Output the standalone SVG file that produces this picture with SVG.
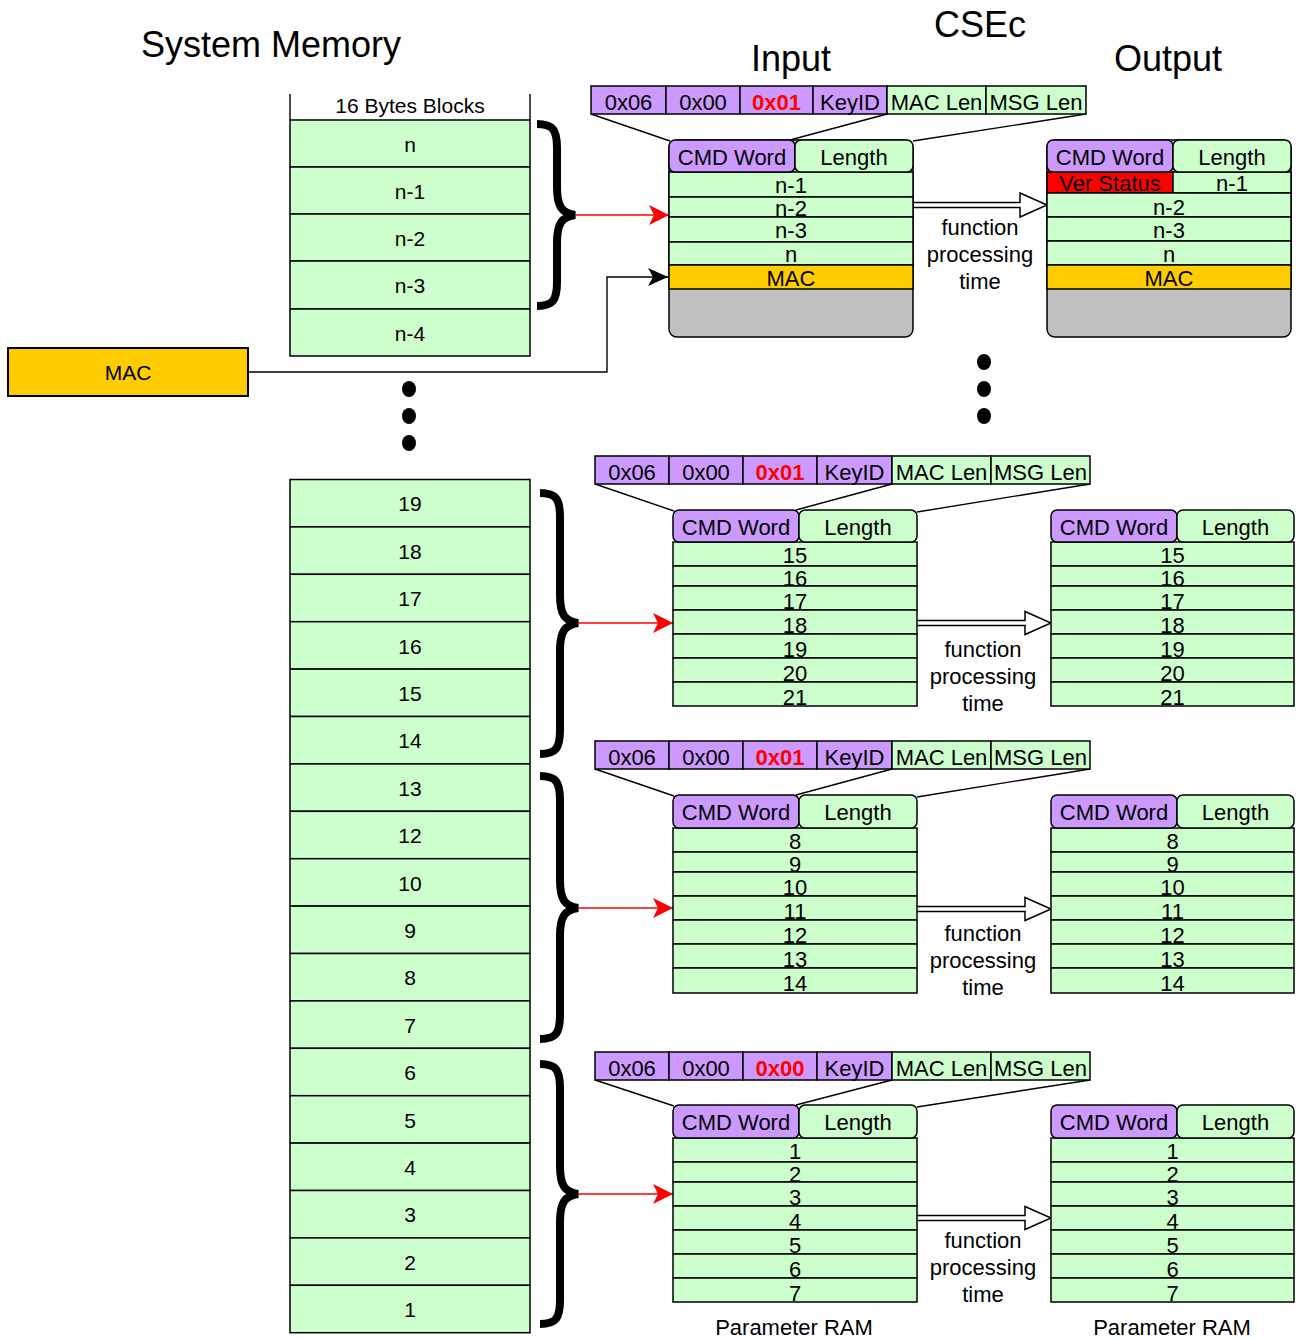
<svg xmlns="http://www.w3.org/2000/svg" width="1296" height="1340" viewBox="0 0 1296 1340">
<style>
text{font-family:"Liberation Sans",Arial,Helvetica,sans-serif;font-size:22px;text-anchor:middle;fill:#000}
.m{font-size:21px}
.big{font-size:36px}
.rb{fill:#FF0000;font-weight:bold}
.g{fill:#CCFFCC;stroke:#000;stroke-width:1.5}
.p{fill:#CC99FF;stroke:#000;stroke-width:1.5}
.o{fill:#FFCC00;stroke:#000;stroke-width:1.5}
.gr{fill:#C0C0C0;stroke:#000;stroke-width:1.5}
.rd{fill:#FF0000;stroke:#000;stroke-width:1.5}
.ln{fill:none;stroke:#000;stroke-width:1.4}
.br{fill:none;stroke:#000;stroke-width:8}
.red{fill:none;stroke:#FF0000;stroke-width:1.5}
.ha{fill:#fff;stroke:#000;stroke-width:1.5}
</style>
<defs>
<marker id="ar" markerUnits="userSpaceOnUse" viewBox="0 0 20 20" refX="20" refY="10" markerWidth="20" markerHeight="20" orient="auto"><path d="M0,0 L20,10 L0,20 L5,10 Z" fill="#FF0000"/></marker>
<marker id="ak" markerUnits="userSpaceOnUse" viewBox="0 0 20 18" refX="20" refY="9" markerWidth="20" markerHeight="18" orient="auto"><path d="M0,0 L20,9 L0,18 L5,9 Z" fill="#000"/></marker>
</defs>

<g id="titles">
<text class="big" x="271" y="57">System Memory</text>
<text class="big" x="980" y="37">CSEc</text>
<text class="big" x="791" y="71">Input</text>
<text class="big" x="1168" y="71">Output</text>
</g>

<g id="memory-top">
<path class="ln" d="M290,94 V120 M530,94 V120"/>
<text class="m" x="410" y="113">16 Bytes Blocks</text>
<rect class="g" x="290" y="120" width="240" height="47"/><text class="m" x="410" y="151.5">n</text>
<rect class="g" x="290" y="167" width="240" height="47"/><text class="m" x="410" y="198.5">n-1</text>
<rect class="g" x="290" y="214" width="240" height="47"/><text class="m" x="410" y="245.5">n-2</text>
<rect class="g" x="290" y="261" width="240" height="48"/><text class="m" x="410" y="293">n-3</text>
<rect class="g" x="290" y="309" width="240" height="47"/><text class="m" x="410" y="340.5">n-4</text>
</g>

<g id="mac-mem">
<rect class="o" x="8" y="348" width="240" height="48" style="stroke-width:2"/>
<text class="m" x="128" y="380">MAC</text>
</g>

<g id="dots">
<ellipse cx="409" cy="389" rx="7" ry="8"/><ellipse cx="409" cy="416" rx="7" ry="8"/><ellipse cx="409" cy="443" rx="7" ry="8"/>
<ellipse cx="984" cy="362" rx="7" ry="8"/><ellipse cx="984" cy="389" rx="7" ry="8"/><ellipse cx="984" cy="416" rx="7" ry="8"/>
</g>

<g id="memory-bottom">
<rect class="g" x="290" y="479.5" width="240" height="47.4"/><text class="m" x="410" y="511">19</text>
<rect class="g" x="290" y="526.9" width="240" height="47.4"/><text class="m" x="410" y="558.5">18</text>
<rect class="g" x="290" y="574.3" width="240" height="47.4"/><text class="m" x="410" y="606">17</text>
<rect class="g" x="290" y="621.7" width="240" height="47.4"/><text class="m" x="410" y="653.5">16</text>
<rect class="g" x="290" y="669.1" width="240" height="47.4"/><text class="m" x="410" y="701">15</text>
<rect class="g" x="290" y="716.5" width="240" height="47.4"/><text class="m" x="410" y="748">14</text>
<rect class="g" x="290" y="763.9" width="240" height="47.4"/><text class="m" x="410" y="795.5">13</text>
<rect class="g" x="290" y="811.3" width="240" height="47.4"/><text class="m" x="410" y="843">12</text>
<rect class="g" x="290" y="858.7" width="240" height="47.4"/><text class="m" x="410" y="890.5">10</text>
<rect class="g" x="290" y="906.1" width="240" height="47.4"/><text class="m" x="410" y="938">9</text>
<rect class="g" x="290" y="953.5" width="240" height="47.4"/><text class="m" x="410" y="985">8</text>
<rect class="g" x="290" y="1000.9" width="240" height="47.4"/><text class="m" x="410" y="1032.5">7</text>
<rect class="g" x="290" y="1048.3" width="240" height="47.4"/><text class="m" x="410" y="1080">6</text>
<rect class="g" x="290" y="1095.7" width="240" height="47.4"/><text class="m" x="410" y="1127.5">5</text>
<rect class="g" x="290" y="1143.1" width="240" height="47.4"/><text class="m" x="410" y="1175">4</text>
<rect class="g" x="290" y="1190.5" width="240" height="47.4"/><text class="m" x="410" y="1222">3</text>
<rect class="g" x="290" y="1237.9" width="240" height="47.4"/><text class="m" x="410" y="1269.5">2</text>
<rect class="g" x="290" y="1285.3" width="240" height="47.4"/><text class="m" x="410" y="1317">1</text>
</g>

<g id="braces">
<path class="br" d="M537,124 C553,124 557,130 557,148 L557,187 C557,207 562,213 575,215 C562,217 557,223 557,243 L557,282 C557,300 553,306 537,306"/>
<path class="br" d="M540,493 C556,493 560,499 560,517 L560,595 C560,615 565,621 578,623 C565,625 560,631 560,651 L560,730 C560,748 556,754 540,754"/>
<path class="br" d="M540,776 C556,776 560,782 560,800 L560,880 C560,900 565,906 578,908 C565,910 560,916 560,936 L560,1015 C560,1033 556,1039 540,1039"/>
<path class="br" d="M540,1064 C556,1064 560,1070 560,1088 L560,1166 C560,1186 565,1192 578,1194 C565,1196 560,1202 560,1222 L560,1300 C560,1318 556,1324 540,1324"/>
</g>

<g id="connectors">
<line class="red" x1="575" y1="215" x2="669" y2="215" marker-end="url(#ar)"/>
<line class="red" x1="578" y1="623" x2="673" y2="623" marker-end="url(#ar)"/>
<line class="red" x1="578" y1="908" x2="673" y2="908" marker-end="url(#ar)"/>
<line class="red" x1="578" y1="1194" x2="673" y2="1194" marker-end="url(#ar)"/>
<path class="ln" d="M248,372 H607 V277 H668" marker-end="url(#ak)"/>
<path class="ln" d="M591,114 L670,141 M887,114 L790,140 M1086,114 L913,141"/>
<path class="ln" d="M595,484 L674,511 M892,484 L796,510 M1090,484 L917,512"/>
<path class="ln" d="M595,769 L674,796 M892,769 L796,795 M1090,769 L917,797"/>
<path class="ln" d="M595,1080 L674,1106 M892,1080 L796,1105 M1090,1080 L917,1107"/>
<path class="ha" d="M913,202.5 H1020 V193 L1047,205 L1020,217 V207.5 H913"/>
<path class="ha" d="M917,620.5 H1025 V611.5 L1051,623 L1025,634.5 V625.5 H917"/>
<path class="ha" d="M917,906.5 H1025 V897.5 L1051,909 L1025,920.5 V911.5 H917"/>
<path class="ha" d="M917,1215.5 H1025 V1206.5 L1051,1218 L1025,1229.5 V1220.5 H917"/>
</g>

<g id="labels-fpt">
<text x="980" y="235">function</text><text x="980" y="262">processing</text><text x="980" y="289">time</text>
<text x="983" y="657">function</text><text x="983" y="684">processing</text><text x="983" y="711">time</text>
<text x="983" y="941">function</text><text x="983" y="968">processing</text><text x="983" y="995">time</text>
<text x="983" y="1248">function</text><text x="983" y="1275">processing</text><text x="983" y="1302">time</text>
<text x="794" y="1335">Parameter RAM</text>
<text x="1172" y="1335">Parameter RAM</text>
</g>

<g id="cmd-bar-1">
<rect class="p" x="591" y="86" width="75" height="28"/><text x="628.5" y="110">0x06</text>
<rect class="p" x="666" y="86" width="74" height="28"/><text x="703" y="110">0x00</text>
<rect class="p" x="740" y="86" width="73" height="28"/><text class="rb" x="776.5" y="110">0x01</text>
<rect class="p" x="813" y="86" width="74" height="28"/><text x="850" y="110">KeyID</text>
<rect class="g" x="887" y="86" width="99" height="28"/><text x="936.5" y="110">MAC Len</text>
<rect class="g" x="986" y="86" width="100" height="28"/><text x="1036" y="110">MSG Len</text>
</g>

<g id="input-1">
<rect class="gr" x="669" y="140" width="244" height="197" rx="8"/>
<rect class="g" x="669" y="172" width="244" height="25"/><text x="791" y="193">n-1</text>
<rect class="g" x="669" y="197" width="244" height="20"/><text x="791" y="216">n-2</text>
<rect class="g" x="669" y="217" width="244" height="25"/><text x="791" y="238">n-3</text>
<rect class="g" x="669" y="242" width="244" height="23"/><text x="791" y="262">n</text>
<rect class="o" x="669" y="265" width="244" height="24"/><text x="791" y="286">MAC</text>
<rect class="p" x="669" y="140" width="126" height="32" rx="6"/><text x="732" y="165">CMD Word</text>
<rect class="g" x="795" y="140" width="118" height="32" rx="6"/><text x="854" y="165">Length</text>
</g>

<g id="output-1">
<rect class="gr" x="1047" y="140" width="244" height="197" rx="8"/>
<rect class="rd" x="1047" y="172" width="126" height="21"/><text x="1110" y="191">Ver Status</text>
<rect class="g" x="1173" y="172" width="118" height="21"/><text x="1232" y="191">n-1</text>
<rect class="g" x="1047" y="193" width="244" height="24"/><text x="1169" y="215">n-2</text>
<rect class="g" x="1047" y="217" width="244" height="24"/><text x="1169" y="238">n-3</text>
<rect class="g" x="1047" y="241" width="244" height="24"/><text x="1169" y="262">n</text>
<rect class="o" x="1047" y="265" width="244" height="24"/><text x="1169" y="286">MAC</text>
<rect class="p" x="1047" y="140" width="126" height="32" rx="6"/><text x="1110" y="165">CMD Word</text>
<rect class="g" x="1173" y="140" width="118" height="32" rx="6"/><text x="1232" y="165">Length</text>
</g>

<g id="cmd-bar-2">
<rect class="p" x="595" y="456" width="74" height="28"/><text x="632" y="480">0x06</text>
<rect class="p" x="669" y="456" width="74" height="28"/><text x="706" y="480">0x00</text>
<rect class="p" x="743" y="456" width="74" height="28"/><text class="rb" x="780" y="480">0x01</text>
<rect class="p" x="817" y="456" width="75" height="28"/><text x="854.5" y="480">KeyID</text>
<rect class="g" x="892" y="456" width="99" height="28"/><text x="941.5" y="480">MAC Len</text>
<rect class="g" x="991" y="456" width="99" height="28"/><text x="1040.5" y="480">MSG Len</text>
</g>

<g id="input-2">
<rect class="g" x="673" y="542" width="244" height="24"/><text x="795" y="563">15</text>
<rect class="g" x="673" y="566" width="244" height="20"/><text x="795" y="586">16</text>
<rect class="g" x="673" y="586" width="244" height="24"/><text x="795" y="609">17</text>
<rect class="g" x="673" y="610" width="244" height="24"/><text x="795" y="633">18</text>
<rect class="g" x="673" y="634" width="244" height="24"/><text x="795" y="657">19</text>
<rect class="g" x="673" y="658" width="244" height="24"/><text x="795" y="681">20</text>
<rect class="g" x="673" y="682" width="244" height="24"/><text x="795" y="705">21</text>
<rect class="p" x="673" y="510" width="126" height="32" rx="6"/><text x="736" y="535">CMD Word</text>
<rect class="g" x="799" y="510" width="118" height="32" rx="6"/><text x="858" y="535">Length</text>
</g>

<g id="output-2">
<rect class="g" x="1051" y="542" width="243" height="24"/><text x="1172.5" y="563">15</text>
<rect class="g" x="1051" y="566" width="243" height="20"/><text x="1172.5" y="586">16</text>
<rect class="g" x="1051" y="586" width="243" height="24"/><text x="1172.5" y="609">17</text>
<rect class="g" x="1051" y="610" width="243" height="24"/><text x="1172.5" y="633">18</text>
<rect class="g" x="1051" y="634" width="243" height="24"/><text x="1172.5" y="657">19</text>
<rect class="g" x="1051" y="658" width="243" height="24"/><text x="1172.5" y="681">20</text>
<rect class="g" x="1051" y="682" width="243" height="24"/><text x="1172.5" y="705">21</text>
<rect class="p" x="1051" y="510" width="126" height="32" rx="6"/><text x="1114" y="535">CMD Word</text>
<rect class="g" x="1177" y="510" width="117" height="32" rx="6"/><text x="1235.5" y="535">Length</text>
</g>

<g id="cmd-bar-3">
<rect class="p" x="595" y="741" width="74" height="28"/><text x="632" y="765">0x06</text>
<rect class="p" x="669" y="741" width="74" height="28"/><text x="706" y="765">0x00</text>
<rect class="p" x="743" y="741" width="74" height="28"/><text class="rb" x="780" y="765">0x01</text>
<rect class="p" x="817" y="741" width="75" height="28"/><text x="854.5" y="765">KeyID</text>
<rect class="g" x="892" y="741" width="99" height="28"/><text x="941.5" y="765">MAC Len</text>
<rect class="g" x="991" y="741" width="99" height="28"/><text x="1040.5" y="765">MSG Len</text>
</g>

<g id="input-3">
<rect class="g" x="673" y="828" width="244" height="24"/><text x="795" y="849">8</text>
<rect class="g" x="673" y="852" width="244" height="20"/><text x="795" y="872">9</text>
<rect class="g" x="673" y="872" width="244" height="24"/><text x="795" y="895">10</text>
<rect class="g" x="673" y="896" width="244" height="24"/><text x="795" y="919">11</text>
<rect class="g" x="673" y="920" width="244" height="24"/><text x="795" y="943">12</text>
<rect class="g" x="673" y="944" width="244" height="24"/><text x="795" y="967">13</text>
<rect class="g" x="673" y="968" width="244" height="25"/><text x="795" y="991">14</text>
<rect class="p" x="673" y="795" width="126" height="33" rx="6"/><text x="736" y="820">CMD Word</text>
<rect class="g" x="799" y="795" width="118" height="33" rx="6"/><text x="858" y="820">Length</text>
</g>

<g id="output-3">
<rect class="g" x="1051" y="828" width="243" height="24"/><text x="1172.5" y="849">8</text>
<rect class="g" x="1051" y="852" width="243" height="20"/><text x="1172.5" y="872">9</text>
<rect class="g" x="1051" y="872" width="243" height="24"/><text x="1172.5" y="895">10</text>
<rect class="g" x="1051" y="896" width="243" height="24"/><text x="1172.5" y="919">11</text>
<rect class="g" x="1051" y="920" width="243" height="24"/><text x="1172.5" y="943">12</text>
<rect class="g" x="1051" y="944" width="243" height="24"/><text x="1172.5" y="967">13</text>
<rect class="g" x="1051" y="968" width="243" height="25"/><text x="1172.5" y="991">14</text>
<rect class="p" x="1051" y="795" width="126" height="33" rx="6"/><text x="1114" y="820">CMD Word</text>
<rect class="g" x="1177" y="795" width="117" height="33" rx="6"/><text x="1235.5" y="820">Length</text>
</g>

<g id="cmd-bar-4">
<rect class="p" x="595" y="1052" width="74" height="28"/><text x="632" y="1076">0x06</text>
<rect class="p" x="669" y="1052" width="74" height="28"/><text x="706" y="1076">0x00</text>
<rect class="p" x="743" y="1052" width="74" height="28"/><text class="rb" x="780" y="1076">0x00</text>
<rect class="p" x="817" y="1052" width="75" height="28"/><text x="854.5" y="1076">KeyID</text>
<rect class="g" x="892" y="1052" width="99" height="28"/><text x="941.5" y="1076">MAC Len</text>
<rect class="g" x="991" y="1052" width="99" height="28"/><text x="1040.5" y="1076">MSG Len</text>
</g>

<g id="input-4">
<rect class="g" x="673" y="1138" width="244" height="24"/><text x="795" y="1159">1</text>
<rect class="g" x="673" y="1162" width="244" height="20"/><text x="795" y="1182">2</text>
<rect class="g" x="673" y="1182" width="244" height="24"/><text x="795" y="1205">3</text>
<rect class="g" x="673" y="1206" width="244" height="24"/><text x="795" y="1229">4</text>
<rect class="g" x="673" y="1230" width="244" height="24"/><text x="795" y="1253">5</text>
<rect class="g" x="673" y="1254" width="244" height="24"/><text x="795" y="1277">6</text>
<rect class="g" x="673" y="1278" width="244" height="24"/><text x="795" y="1301">7</text>
<rect class="p" x="673" y="1105" width="126" height="33" rx="6"/><text x="736" y="1130">CMD Word</text>
<rect class="g" x="799" y="1105" width="118" height="33" rx="6"/><text x="858" y="1130">Length</text>
</g>

<g id="output-4">
<rect class="g" x="1051" y="1138" width="243" height="24"/><text x="1172.5" y="1159">1</text>
<rect class="g" x="1051" y="1162" width="243" height="20"/><text x="1172.5" y="1182">2</text>
<rect class="g" x="1051" y="1182" width="243" height="24"/><text x="1172.5" y="1205">3</text>
<rect class="g" x="1051" y="1206" width="243" height="24"/><text x="1172.5" y="1229">4</text>
<rect class="g" x="1051" y="1230" width="243" height="24"/><text x="1172.5" y="1253">5</text>
<rect class="g" x="1051" y="1254" width="243" height="24"/><text x="1172.5" y="1277">6</text>
<rect class="g" x="1051" y="1278" width="243" height="24"/><text x="1172.5" y="1301">7</text>
<rect class="p" x="1051" y="1105" width="126" height="33" rx="6"/><text x="1114" y="1130">CMD Word</text>
<rect class="g" x="1177" y="1105" width="117" height="33" rx="6"/><text x="1235.5" y="1130">Length</text>
</g>
</svg>
